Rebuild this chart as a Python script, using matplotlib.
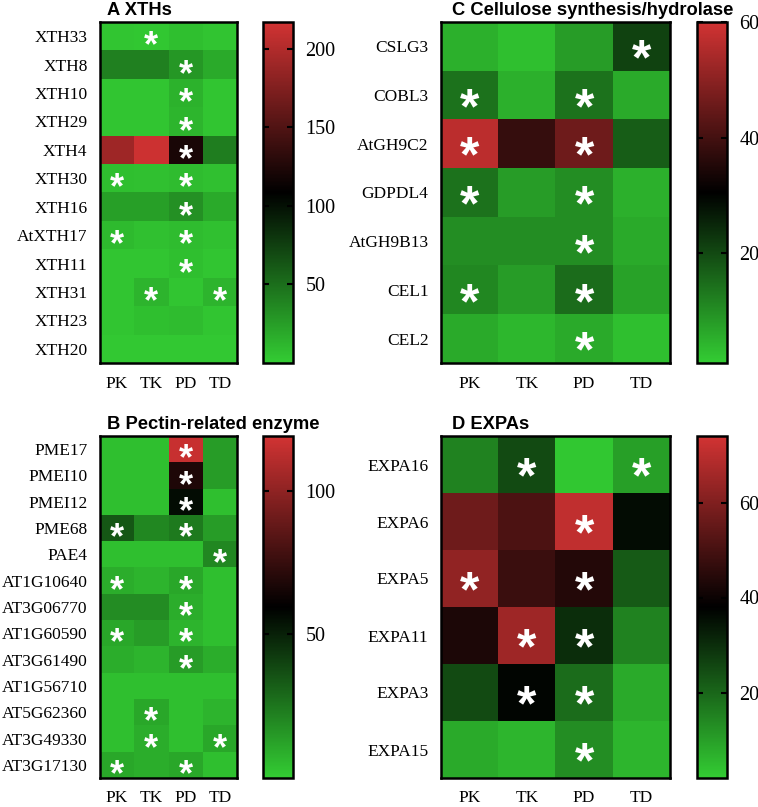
import numpy as np
import matplotlib
matplotlib.use("Agg")
import matplotlib.pyplot as plt
from matplotlib.colors import LinearSegmentedColormap
from matplotlib.transforms import offset_copy

conditions = ["PK", "TK", "PD", "TD"]

# Panel A: XTHs
genes_a = ["XTH33", "XTH8", "XTH10", "XTH29", "XTH4", "XTH30", "XTH16",
           "AtXTH17", "XTH11", "XTH31", "XTH23", "XTH20"]
vals_a = [
    [4, 3, 7, 5],
    [40, 40, 28, 18],
    [4, 4, 14, 4],
    [4, 4, 12, 4],
    [190, 214, 122, 42],
    [7, 6, 9, 6],
    [24, 24, 32, 18],
    [10, 6, 9, 6],
    [4, 4, 7, 4],
    [4, 13, 4, 13],
    [4, 7, 9, 4],
    [2, 2, 2, 2],
]
stars_a = [
    [0, 1, 0, 0], [0, 0, 1, 0], [0, 0, 1, 0], [0, 0, 1, 0], [0, 0, 1, 0],
    [1, 0, 1, 0], [0, 0, 1, 0], [1, 0, 1, 0], [0, 0, 1, 0], [0, 1, 0, 1],
    [0, 0, 0, 0], [0, 0, 0, 0],
]
range_a = [0, 217]
ticks_a = [50, 100, 150, 200]

# Panel B: Pectin-related enzyme
genes_b = ["PME17", "PMEI10", "PMEI12", "PME68", "PAE4", "AT1G10640",
           "AT3G06770", "AT1G60590", "AT3G61490", "AT1G56710", "AT5G62360",
           "AT3G49330", "AT3G17130"]
vals_b = [
    [4, 4, 116, 14],
    [4, 4, 68, 14],
    [4, 4, 56, 4],
    [34, 20, 24, 14],
    [4, 4, 4, 20],
    [9, 7, 11, 4],
    [19, 19, 9, 4],
    [11, 14, 7, 4],
    [9, 7, 14, 9],
    [4, 4, 4, 4],
    [4, 11, 4, 7],
    [4, 9, 4, 11],
    [11, 9, 11, 4],
]
stars_b = [
    [0, 0, 1, 0], [0, 0, 1, 0], [0, 0, 1, 0], [1, 0, 1, 0], [0, 0, 0, 1],
    [1, 0, 1, 0], [0, 0, 1, 0], [1, 0, 1, 0], [0, 0, 1, 0], [0, 0, 0, 0],
    [0, 1, 0, 0], [0, 1, 0, 1], [1, 0, 1, 0],
]
range_b = [0, 119]
ticks_b = [50, 100]

# Panel C: Cellulose synthesis/hydrolase
genes_c = ["CSLG3", "COBL3", "AtGH9C2", "GDPDL4", "AtGH9B13", "CEL1", "CEL2"]
vals_c = [
    [5, 3, 8, 21],
    [14, 5, 14, 6],
    [57, 38, 46, 17],
    [14, 8, 10, 5],
    [10, 10, 10, 6],
    [11, 8, 15, 7],
    [6, 4, 6, 3],
]
stars_c = [
    [0, 0, 0, 1], [1, 0, 1, 0], [1, 0, 1, 0], [1, 0, 1, 0], [0, 0, 1, 0],
    [1, 0, 1, 0], [0, 0, 1, 0],
]
range_c = [1, 60]
ticks_c = [20, 40, 60]

# Panel D: EXPAs
genes_d = ["EXPA16", "EXPA6", "EXPA5", "EXPA11", "EXPA3", "EXPA15"]
vals_d = [
    [15, 25, 3, 10],
    [57, 51, 71, 36],
    [63, 48, 44, 22],
    [43, 65, 30, 15],
    [25, 37, 19, 8],
    [8, 6, 13, 6],
]
stars_d = [
    [0, 1, 0, 1], [0, 0, 1, 0], [1, 0, 1, 0], [0, 1, 1, 0], [0, 1, 1, 0],
    [0, 0, 1, 0],
]
range_d = [2, 74]
ticks_d = [20, 40, 60]

cmap = LinearSegmentedColormap.from_list(
    "gbr", [(0.20, 0.80, 0.20), (0.0, 0.0, 0.0), (0.82, 0.20, 0.20)])

serif = ["Liberation Serif", "DejaVu Serif"]
sans = ["Liberation Sans", "DejaVu Sans"]

fig = plt.figure(figsize=(7.58, 8.07), dpi=100)
W, H = 758.0, 807.0


def rect(x0, x1, y0, y1):
    return [x0 / W, 1 - y1 / H, (x1 - x0) / W, (y1 - y0) / H]


panels = [
    ("A XTHs", genes_a, vals_a, stars_a, range_a, ticks_a,
     (100, 237, 22, 363), (263, 293), 26),
    ("B Pectin-related enzyme", genes_b, vals_b, stars_b, range_b, ticks_b,
     (100, 237, 436, 778), (263, 293), 26),
    ("C Cellulose synthesis/hydrolase", genes_c, vals_c, stars_c, range_c,
     ticks_c, (441, 670, 22, 363), (697, 727), 36),
    ("D EXPAs", genes_d, vals_d, stars_d, range_d, ticks_d,
     (441, 670, 436, 778), (697, 727), 36),
]

for title, genes, vals, stars, vr, ticks, box, cbx, sfs in panels:
    x0, x1, y0, y1 = box
    ax = fig.add_axes(rect(x0, x1, y0, y1))
    data = np.array(vals, dtype=float)
    im = ax.imshow(data, cmap=cmap, vmin=vr[0], vmax=vr[1], aspect="auto",
                   interpolation="nearest")
    ax.set_xticks(range(len(conditions)))
    ax.set_xticklabels(conditions, fontfamily=serif, fontsize=12.5)
    ax.set_yticks(range(len(genes)))
    ax.set_yticklabels(genes, fontfamily=serif, fontsize=12.5)
    ax.tick_params(length=0, pad=9)
    for s in ax.spines.values():
        s.set_linewidth(1.8)
        s.set_color("black")
    tr = offset_copy(ax.transData, fig=fig, x=0, y=-0.56 * sfs, units="points")
    for i, row in enumerate(stars):
        for j, flag in enumerate(row):
            if flag:
                ax.text(j, i, "*", transform=tr, ha="center", va="baseline",
                        color="white", fontsize=sfs, fontweight="bold",
                        fontfamily=sans)
    ax.text(0.05, 1.0 + 7.0 / (y1 - y0), title, transform=ax.transAxes,
            ha="left", va="baseline", fontsize=13.2, fontweight="bold",
            fontfamily=sans)

    cax = fig.add_axes(rect(cbx[0], cbx[1], y0, y1))
    cb = fig.colorbar(im, cax=cax, ticks=ticks)
    cb.outline.set_linewidth(1.8)
    cax.tick_params(direction="in", left=True, right=True, length=4,
                    width=1.5, pad=9)
    for lab in cax.get_yticklabels():
        lab.set_fontfamily(serif)
        lab.set_fontsize(14.5)

fig.savefig("out.png", dpi=100)
